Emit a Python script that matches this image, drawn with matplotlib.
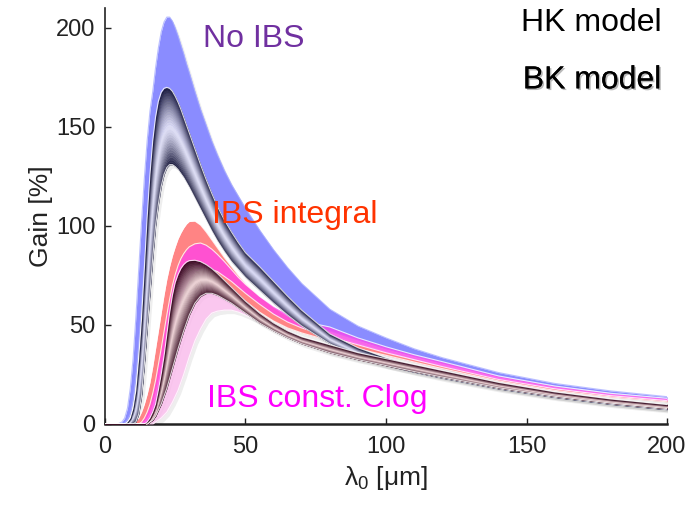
import numpy as np
import matplotlib
matplotlib.use("Agg")
import matplotlib.pyplot as plt
from matplotlib import patheffects as pe
from matplotlib import transforms as mtrans
from matplotlib.colors import to_rgb

plt.rcParams['font.family'] = ['Liberation Sans', 'DejaVu Sans']
plt.rcParams['mathtext.fontset'] = 'custom'
plt.rcParams['mathtext.rm'] = 'Liberation Sans'
plt.rcParams['mathtext.it'] = 'Liberation Sans:italic'

# ---------------- data ----------------
wavelength = [0, 4, 5, 6, 7, 8, 9, 10, 11, 12, 13, 14, 15, 16, 17, 18, 19, 20, 21, 22,
              23, 24, 25, 26, 27, 28, 29, 30, 32, 34, 36, 38, 40, 42.5, 45, 47.5, 50,
              55, 60, 65, 70, 80, 90, 100, 110, 120, 140, 160, 180, 200]

# HK model, no IBS (blue band)
hk_noibs_hi = [0, 0, 0.3, 1, 3, 8, 18, 33, 54, 78, 102, 124, 143, 158, 168, 180, 190, 198, 203, 205.5,
               205.5, 203.5, 200, 196, 191.5, 187, 182, 177.5, 168, 159, 151, 143, 136, 128, 121, 115, 109,
               98, 88, 79, 71, 58, 49.5, 43.5, 38, 33.5, 26, 20.5, 16.7, 13.8]
hk_noibs_lo = [0, 0, 0, 0, 0.5, 2, 5, 12, 24, 40, 60, 80, 97, 112, 124, 133, 140, 145, 148, 150,
               150.5, 150, 149, 147, 144.5, 142, 139, 136, 130, 124, 118, 111, 104, 98, 92, 85, 79,
               70, 62, 56, 51.5, 47, 42.5, 38, 34.3, 30.8, 24, 19, 15.4, 12.8]
# BK model, no IBS (dark navy tube)
bk_noibs_hi = [0, 0, 0, 0, 0, 1, 3, 8, 17, 33, 53, 78, 104, 126, 143, 155, 163, 167.5, 169.5, 170,
               169.5, 168, 165.5, 162.5, 159, 155, 151, 147, 139, 131, 123.5, 116.5, 110, 103, 97, 91.5, 86.5,
               79.5, 72, 64.5, 57.5, 45.5, 38.5, 33.5, 29.8, 26.5, 20.5, 15.7, 12.3, 9.8]
bk_noibs_lo = [0, 0, 0, 0, 0, 0, 0, 0, 1, 5, 14, 30, 48, 66, 84, 100, 111, 120, 126, 129.5,
               131, 131, 130, 128.5, 126.5, 124.5, 122, 119.5, 114, 108.5, 103, 97.5, 92.5, 87, 82, 78, 74,
               67.5, 61, 55, 49.5, 40.5, 34, 29.5, 26.2, 23.2, 17.8, 13.5, 10, 7.3]
# HK model, IBS integral (red band)
hk_int_hi = [0, 0, 0, 0, 0, 0, 0, 0.5, 1.5, 3, 6, 10, 15, 21, 29, 38, 47, 56, 65, 73,
             79.5, 85, 89.5, 93.5, 96.5, 99, 101, 102.3, 102.5, 100.5, 97, 93, 89, 84, 79.5, 75, 71,
             64.5, 59, 54.5, 51, 45, 40.5, 36.5, 32.7, 29.5, 23, 18, 14.5, 12]
hk_int_lo = [0, 0, 0, 0, 0, 0, 0, 0, 0, 0, 0.3, 1, 2.5, 5, 9, 15, 21, 28, 35, 42,
             49, 55, 60.5, 65, 69, 72.5, 75.5, 77.5, 80, 80.5, 79.5, 77.5, 75, 71.5, 68, 65, 62,
             56.5, 52, 48.5, 46, 42, 38, 34.7, 31.3, 28, 21.8, 17, 13.7, 11.2]
# HK model, IBS const. Clog (magenta band)
hk_clog_hi = [0, 0, 0, 0, 0, 0, 0, 0, 0, 0, 1, 3, 6, 10, 15.5, 22, 30, 38, 46.5, 55,
              63, 70, 75.5, 80, 83.5, 86, 88, 89.5, 91, 91.4, 90.3, 88.3, 85.7, 82, 78, 74, 70.5,
              64.5, 59.5, 55.5, 52, 49, 43.5, 39, 35, 31.5, 24.3, 19.2, 15.5, 13]
hk_clog_lo = [0, 0, 0, 0, 0, 0, 0, 0, 0, 0, 0, 0, 0, 2, 4.5, 8, 13, 18, 24, 30,
              37, 44, 50, 56, 61, 65, 69, 72, 76, 78, 78.5, 78, 77, 74.5, 72, 69, 66,
              60.5, 55.5, 51.5, 48.5, 44, 40, 36, 32.5, 29, 22.5, 17.8, 14.3, 11.8]
# BK model, IBS integral (dark brown tube)
bk_int_hi = [0, 0, 0, 0, 0, 0, 0, 0, 0, 0, 0, 0, 1, 3, 6, 10, 17, 25, 34, 45,
             56, 65, 71.5, 75.5, 78.5, 80.5, 81.8, 82.5, 82.7, 82, 80.5, 78.5, 76, 72.5, 69, 65.5, 62,
             56, 51, 47, 44, 40, 36, 33, 30, 27, 21, 16.2, 12.6, 9.8]
bk_int_lo = [0, 0, 0, 0, 0, 0, 0, 0, 0, 0, 0, 0, 0, 1, 2, 4, 7, 10, 14, 18,
             23, 28, 33, 38, 42.5, 47, 51, 55, 61, 64.5, 66, 66, 65, 63, 61, 58.5, 56,
             51, 47, 43.5, 40.5, 36, 32.5, 29.5, 26.5, 23.7, 18.3, 14, 10.5, 7.8]
# BK model, IBS const. Clog (light pink band)
bk_clog_hi = [0, 0, 0, 0, 0, 0, 0, 0, 0, 0, 0, 0, 0, 2, 4, 6, 9, 12, 16, 20,
              25, 30, 35, 40, 44.5, 49, 53, 57, 63, 68, 71, 72, 72, 69.5, 66, 63, 60,
              55, 50.5, 46.5, 43.5, 38.5, 35, 32, 29, 26, 19.8, 15.2, 11.7, 8.8]
bk_clog_lo = [0, 0, 0, 0, 0, 0, 0, 0, 0, 0, 0, 0, 0, 0, 0, 1, 2, 3, 4.5, 6,
              8.5, 11, 14, 17, 21, 25, 29.5, 34, 42, 48, 53, 56, 57, 57.5, 57.5, 56.5, 55,
              51.5, 48, 44.5, 41.5, 36.5, 33, 30, 27, 24, 18.5, 14, 10.6, 7.8]

x_ticks = [0, 50, 100, 150, 200]
y_ticks = [0, 50, 100, 150, 200]

# ---------------- figure ----------------
fig = plt.figure(figsize=(6.98, 5.05), dpi=100)
ax = fig.add_axes([0.1504, 0.1604, 0.8052, 0.8234])
x = np.asarray(wavelength, dtype=float)

shadow_tr = mtrans.offset_copy(ax.transData, fig=fig, x=2.5, y=-3.5, units='dots')

bands = [
    (hk_noibs_lo, hk_noibs_hi),
    (bk_noibs_lo, bk_noibs_hi),
    (hk_int_lo, hk_int_hi),
    (hk_clog_lo, hk_clog_hi),
    (bk_int_lo, bk_int_hi),
    (bk_clog_lo, bk_clog_hi),
]
for lo, hi in bands:
    ax.fill_between(x, lo, hi, color='0.35', alpha=0.10, lw=0, transform=shadow_tr, zorder=1)


def plain_band(lo, hi, color, alpha, z, edge='white'):
    ax.fill_between(x, lo, hi, color=color, alpha=alpha, lw=0, zorder=z)
    ax.plot(x, hi, color=edge, lw=0.8, alpha=0.8, zorder=z + 0.1)
    ax.plot(x, lo, color=edge, lw=0.8, alpha=0.8, zorder=z + 0.1)


def tube(lo, hi, edge, center, z, n=30, power=1.3):
    lo = np.asarray(lo, float)
    hi = np.asarray(hi, float)
    e = np.array(to_rgb(edge))
    c = np.array(to_rgb(center))
    for i in range(n):
        t0, t1 = i / n, (i + 1) / n
        tm = 0.5 * (t0 + t1)
        w = abs(2 * tm - 1) ** power
        col = c + (e - c) * w
        ax.fill_between(x, lo + (hi - lo) * t0, lo + (hi - lo) * t1,
                        facecolor=col, edgecolor=col, lw=0.3, zorder=z)
    ax.plot(x, hi, color='white', lw=0.8, alpha=0.8, zorder=z + 0.1)
    ax.plot(x, lo, color='white', lw=0.8, alpha=0.8, zorder=z + 0.1)


plain_band(hk_noibs_lo, hk_noibs_hi, '#8a8cff', 1.0, 2, edge='#aab0ff')
plain_band(hk_int_lo, hk_int_hi, '#ff8484', 1.0, 3)
plain_band(hk_clog_lo, hk_clog_hi, '#ff40ec', 0.75, 4)
plain_band(bk_clog_lo, bk_clog_hi, '#ffbaf0', 0.75, 4.5)
tube(bk_noibs_lo, bk_noibs_hi, '#17173a', '#dedef6', 5)
tube(bk_int_lo, bk_int_hi, '#34081e', '#f0d6d8', 6, power=1.0)

# ---------------- axes styling ----------------
ax.set_xlim(0, 200)
ax.set_ylim(0, 210)
ax.set_xticks(x_ticks)
ax.set_yticks(y_ticks)
for s in ('top', 'right'):
    ax.spines[s].set_visible(False)
ax.spines['left'].set_linewidth(1.2)
ax.spines['bottom'].set_linewidth(1.8)
ax.spines['left'].set_color('#222222')
ax.spines['bottom'].set_color('#222222')
ax.tick_params(direction='in', length=4, width=1, colors='#222222', labelsize=17)
ax.tick_params(axis='x', pad=9)
ax.tick_params(axis='y', pad=7)

ax.set_ylabel('Gain [%]', fontsize=19, color='#222222')
ax.yaxis.set_label_coords(-0.093, 0.5)
ax.set_xlabel('λ$_0$ [μm]', fontsize=19, color='#222222')
ax.xaxis.set_label_coords(0.5, -0.095)

ax.text(34.9, 190.4, 'No IBS', color='#7030a0', fontsize=23, ha='left', va='baseline', zorder=10)
ax.text(38.1, 101.5, 'IBS integral', color='#ff3300', fontsize=23, ha='left', va='baseline', zorder=10)
ax.text(36.3, 8.5, 'IBS const. Clog', color='#ff00ff', fontsize=23, ha='left', va='baseline', zorder=10)

fig.text(0.746, 0.939, 'HK model', color='black', fontsize=23, ha='left', va='baseline')
fig.text(0.749, 0.825, 'BK model', color='black', fontsize=23, ha='left', va='baseline',
         path_effects=[pe.withSimplePatchShadow(offset=(1.2, -1.2), shadow_rgbFace='#777777', alpha=0.5),
                       pe.Normal()])

fig.savefig('out.png', dpi=100)
